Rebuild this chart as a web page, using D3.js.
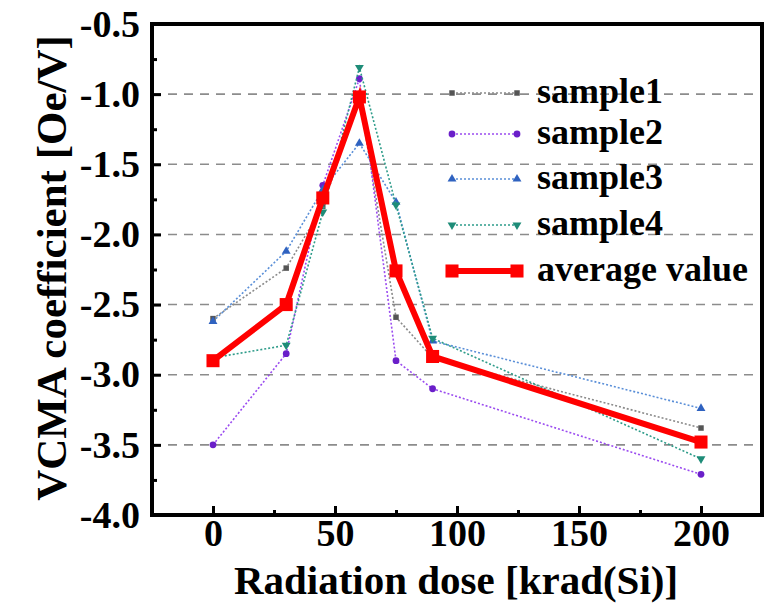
<!DOCTYPE html>
<html>
<head>
<meta charset="utf-8">
<script src="https://cdn.jsdelivr.net/npm/d3@7"></script>
<style>
  body { margin: 0; background: #fff; }
  svg text { font-family: "Liberation Serif", "Times New Roman", serif; font-weight: bold; }
</style>
</head>
<body>
<svg id="chart" width="775" height="606"></svg>
<script>
// dose values (krad(Si))
var doses = [0, 30, 45, 60, 75, 90, 200];
var sample1 = [-2.60, -2.24, -1.80, -1.03, -2.59, -2.88, -3.38];
var sample2 = [-3.50, -2.85, -1.65, -0.89, -2.90, -3.10, -3.71];
var sample3 = [-2.62, -2.12, -1.68, -1.35, -1.77, -2.76, -3.24];
var sample4 = [-2.88, -2.79, -1.84, -0.81, -1.79, -2.74, -3.60];
var average = [-2.90, -2.50, -1.74, -1.02, -2.26, -2.87, -3.48];

var xTicks = [0, 50, 100, 150, 200];
var xMinor = [25, 75, 125, 175];
var yTicks = [-0.5, -1.0, -1.5, -2.0, -2.5, -3.0, -3.5, -4.0];
var yMinor = [-0.75, -1.25, -1.75, -2.25, -2.75, -3.25, -3.75];
var gridVals = [-1.0, -1.5, -2.0, -2.5, -3.0, -3.5];

(function() {
  var series = [
    {name: "sample1", values: sample1, line: "#8a8a8a", mark: "#555555", sym: d3.symbolSquare, size: 30, dash: "2,2"},
    {name: "sample2", values: sample2, line: "#9b4cf0", mark: "#6a1fc9", sym: d3.symbolCircle, size: 36, dash: "2,2"},
    {name: "sample3", values: sample3, line: "#5a8fd8", mark: "#2f62c0", sym: d3.symbolTriangle, size: 34, dash: "2,2"},
    {name: "sample4", values: sample4, line: "#2e9c8a", mark: "#1e8c78", sym: "down", size: 34, dash: "2,2"},
    {name: "average value", values: average, line: "#ff0000", mark: "#ff0000", sym: d3.symbolSquare, size: 170, dash: null, width: 6}
  ];

  var svg = d3.select("#chart");
  var mLeft = 152, mRight = 762, mTop = 24, mBottom = 515;

  var x = d3.scaleLinear().domain([-25, 225]).range([mLeft, mRight]);
  var y = d3.scaleLinear().domain([-4.0, -0.5]).range([mBottom, mTop]);

  // dashed grid lines
  svg.append("g").selectAll("line")
    .data(gridVals).enter().append("line")
    .attr("x1", mLeft).attr("x2", mRight)
    .attr("y1", function(d) { return y(d); })
    .attr("y2", function(d) { return y(d); })
    .attr("stroke", "#8c8c8c")
    .attr("stroke-width", 1.6)
    .attr("stroke-dasharray", "9,7");

  function symPath(s) {
    var t = s.sym === "down" ? d3.symbolTriangle : s.sym;
    return d3.symbol().type(t).size(s.size)();
  }
  function symTransform(s, px, py) {
    return "translate(" + px + "," + py + ")" + (s.sym === "down" ? " rotate(180)" : "");
  }

  var line = d3.line()
    .x(function(d) { return x(d[0]); })
    .y(function(d) { return y(d[1]); });

  series.forEach(function(s) {
    var pts = doses.map(function(d, i) { return [d, s.values[i]]; });
    svg.append("path")
      .datum(pts)
      .attr("d", line)
      .attr("fill", "none")
      .attr("stroke", s.line)
      .attr("stroke-width", s.width || 1.6)
      .attr("stroke-dasharray", s.dash);
    svg.append("g").selectAll("path")
      .data(pts).enter().append("path")
      .attr("d", symPath(s))
      .attr("fill", s.mark)
      .attr("transform", function(d) { return symTransform(s, x(d[0]), y(d[1])); });
  });

  // frame
  svg.append("rect")
    .attr("x", mLeft).attr("y", mTop)
    .attr("width", mRight - mLeft).attr("height", mBottom - mTop)
    .attr("fill", "none").attr("stroke", "#000").attr("stroke-width", 4);

  // axes, ticks pointing inward
  var xAxis = svg.append("g")
    .attr("transform", "translate(0," + mBottom + ")")
    .call(d3.axisBottom(x).tickValues(xTicks).tickSizeInner(-9).tickSizeOuter(0).tickPadding(4));
  xAxis.select(".domain").remove();
  svg.append("g")
    .attr("transform", "translate(0," + mBottom + ")")
    .call(d3.axisBottom(x).tickValues(xMinor).tickSizeInner(-5).tickSizeOuter(0).tickFormat(""))
    .select(".domain").remove();

  var yAxis = svg.append("g")
    .attr("transform", "translate(" + mLeft + ",0)")
    .call(d3.axisLeft(y).tickValues(yTicks).tickSizeInner(-9).tickSizeOuter(0).tickPadding(12));
  yAxis.select(".domain").remove();
  svg.append("g")
    .attr("transform", "translate(" + mLeft + ",0)")
    .call(d3.axisLeft(y).tickValues(yMinor).tickSizeInner(-5).tickSizeOuter(0).tickFormat(""))
    .select(".domain").remove();

  svg.selectAll(".tick line").attr("stroke", "#000").attr("stroke-width", 3);
  svg.selectAll(".tick text")
    .attr("font-family", "Liberation Serif, Times New Roman, serif")
    .attr("font-weight", "bold")
    .attr("font-size", 38)
    .attr("fill", "#000");
  yAxis.selectAll(".tick text").text(function(d) { return d.toFixed(1); });

  // axis titles
  svg.append("text")
    .attr("x", 456).attr("y", 594)
    .attr("text-anchor", "middle")
    .attr("font-size", 41)
    .text("Radiation dose [krad(Si)]");
  svg.append("text")
    .attr("transform", "translate(66,268) rotate(-90)")
    .attr("text-anchor", "middle")
    .attr("font-size", 43)
    .text("VCMA coefficient [Oe/V]");

  // legend
  var legendY = [93, 134, 179, 225, 271];
  var lg = svg.append("g");
  series.forEach(function(s, i) {
    var ly = legendY[i];
    lg.append("line")
      .attr("x1", 452).attr("x2", 517).attr("y1", ly).attr("y2", ly)
      .attr("stroke", s.line).attr("stroke-width", s.width || 1.6)
      .attr("stroke-dasharray", s.dash);
    [452, 517].forEach(function(px) {
      lg.append("path")
        .attr("d", symPath(s))
        .attr("fill", s.mark)
        .attr("transform", symTransform(s, px, ly));
    });
    lg.append("text")
      .attr("x", 537).attr("y", ly + 10)
      .attr("font-size", 36)
      .text(s.name);
  });
})();
</script>
</body>
</html>
